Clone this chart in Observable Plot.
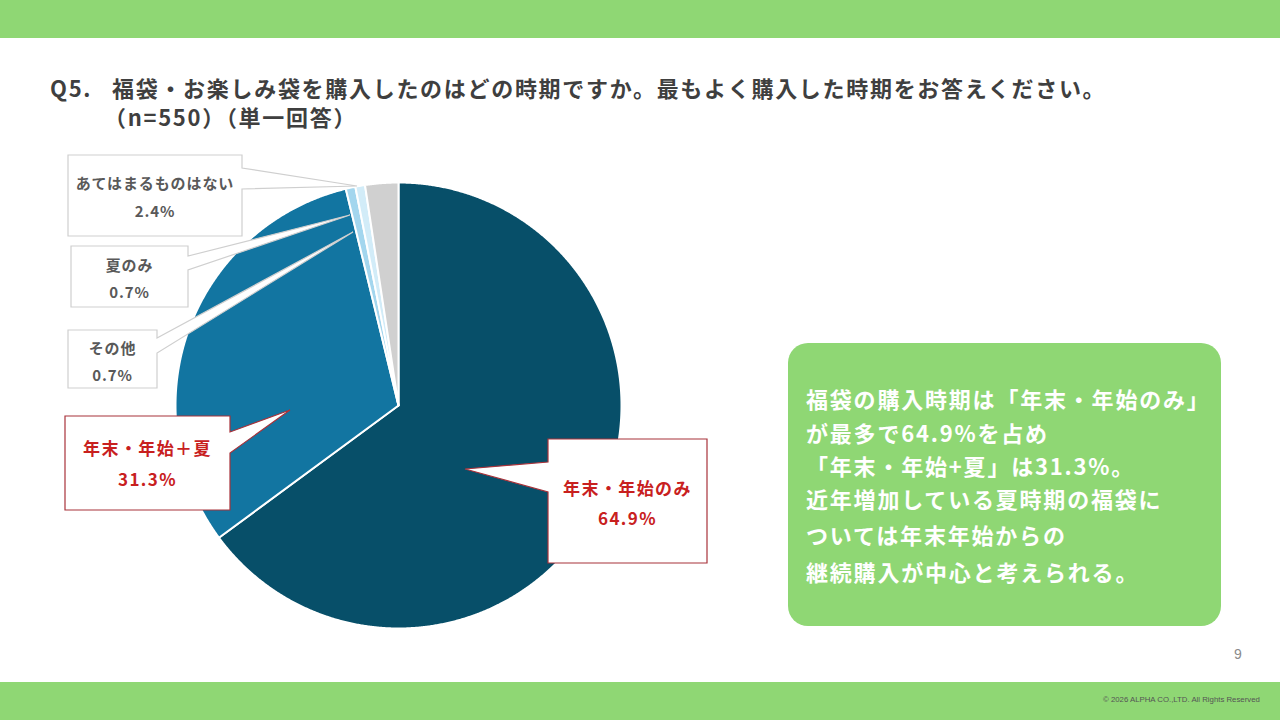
<!DOCTYPE html>
<html lang="ja">
<head>
<meta charset="utf-8">
<script src="https://cdn.jsdelivr.net/npm/d3@7"></script>
<script src="https://cdn.jsdelivr.net/npm/@observablehq/plot@0.6"></script>
<style>
  html, body { margin: 0; padding: 0; background: #fff; }
  #page { position: relative; width: 1280px; height: 720px; overflow: hidden;
          font-family: "Noto Sans CJK JP", "Noto Sans", sans-serif; }
  .bar { position: absolute; left: 0; width: 1280px; height: 38px; background: #8fd774; }
  #chart { position: absolute; left: 0; top: 0; }
  .title { position: absolute; font-size: 22px; font-weight: 700; color: #3f3f3f;
           letter-spacing: 1.7px; line-height: 29px; white-space: nowrap; }
  #note { position: absolute; left: 788px; top: 343px; width: 433px; height: 283px;
          background: #8fd774; border-radius: 20px; }
  #note div { position: absolute; left: 18px; font-size: 22px; font-weight: 700; color: #fff;
              letter-spacing: 1.8px; white-space: nowrap; line-height: 30px; }
  #pageno { position: absolute; left: 1234px; top: 646px; font-size: 14px; color: #8a8a8a;
            font-family: "Liberation Sans", Arial, sans-serif; }
  #copy { position: absolute; left: 1103px; top: 695px; font-size: 7.8px; color: #555;
          font-family: "Liberation Sans", Arial, sans-serif; white-space: nowrap; }
</style>
</head>
<body>
<div id="page">
  <div class="bar" style="top:0"></div>
  <div class="bar" style="top:682px"></div>
  <div id="chart"></div>
  <div class="title" style="left:50px; top:73px;">Q5.</div>
  <div class="title" style="left:112px; top:73px;">福袋・お楽しみ袋を購入したのはどの時期ですか。最もよく購入した時期をお答えください。</div>
  <div class="title" style="left:104px; top:102px;">（n=550）（単一回答）</div>
  <div id="note"></div>
  <div id="pageno">9</div>
  <div id="copy">© 2026 ALPHA CO.,LTD. All Rights Reserved</div>
</div>
<script>
// ---- data ----
const labels = ["年末・年始のみ", "年末・年始＋夏", "その他", "夏のみ", "あてはまるものはない"];
const values = [64.9, 31.3, 0.7, 0.7, 2.4];
const valueLabels = ["64.9%", "31.3%", "0.7%", "0.7%", "2.4%"];
const colors = ["#074f69", "#1275a1", "#a3d6ee", "#d2ecf8", "#d0d0d0"];
const noteLines = [
  "福袋の購入時期は「年末・年始のみ」",
  "が最多で64.9%を占め",
  "「年末・年始+夏」は31.3%。",
  "近年増加している夏時期の福袋に",
  "ついては年末年始からの",
  "継続購入が中心と考えられる。"
];

// ---- pie geometry from data ----
const arcs = d3.pie().sort(null).value((d, i) => values[i])(labels);
const pts = [];
arcs.forEach(a => {
  pts.push({name: a.data, x: 0, y: 0});
  const n = Math.max(2, Math.ceil((a.endAngle - a.startAngle) / 0.005));
  for (let k = 0; k <= n; k++) {
    const t = a.startAngle + (a.endAngle - a.startAngle) * k / n;
    pts.push({name: a.data, x: Math.sin(t), y: Math.cos(t)});
  }
});

const chart = Plot.plot({
  width: 1280,
  height: 720,
  margin: 0,
  style: {background: "transparent", overflow: "visible"},
  x: {domain: [-1, 1], range: [175, 621], axis: null},
  y: {domain: [-1, 1], range: [628, 182], axis: null},
  color: {domain: labels, range: colors},
  marks: [
    Plot.line(pts, {x: "x", y: "y", z: "name", fill: "name", stroke: "white",
                    strokeWidth: 2, strokeLinejoin: "round", curve: "linear-closed"})
  ]
});
document.getElementById("chart").appendChild(chart);

// ---- callouts (annotation layer) ----
const callouts = [
  {i: 4, box: [68, 155, 242, 236], side: "right", base: [168, 189], tip: [357, 186],
   stroke: "#cfcfcf", color: "#595959", size: 15, ls: 0.9, ty: [182, 210]},
  {i: 3, box: [71, 246, 188, 307], side: "right", base: [256, 270], tip: [350, 215],
   stroke: "#cfcfcf", color: "#595959", size: 15, ls: 0.9, ty: [264, 291]},
  {i: 2, box: [68, 330, 157, 388], side: "right", base: [338, 353], tip: [353, 232],
   stroke: "#cfcfcf", color: "#595959", size: 15, ls: 0.9, ty: [347, 374]},
  {i: 1, box: [65, 416, 230, 510], side: "right", base: [432, 453], tip: [290, 410],
   stroke: "#a8323a", color: "#c8201e", size: 17, ls: 1.4, ty: [447, 478]},
  {i: 0, box: [548, 439, 707, 563], side: "left", base: [462, 492], tip: [465, 469],
   stroke: "#a8323a", color: "#c8201e", size: 17, ls: 1.4, ty: [487, 517]}
];
const svg = d3.select(chart);
const g = svg.append("g");
callouts.forEach(c => {
  const [x0, y0, x1, y1] = c.box;
  let d;
  if (c.side === "right") {
    d = `M${x0},${y0}H${x1}V${c.base[0]}L${c.tip[0]},${c.tip[1]}L${x1},${c.base[1]}V${y1}H${x0}Z`;
  } else {
    d = `M${x0},${y0}H${x1}V${y1}H${x0}V${c.base[1]}L${c.tip[0]},${c.tip[1]}L${x0},${c.base[0]}Z`;
  }
  g.append("path").attr("d", d).attr("fill", "white").attr("stroke", c.stroke)
    .attr("stroke-width", 1.2).attr("stroke-linejoin", "miter");
  const cx = (x0 + x1) / 2;
  [labels[c.i], valueLabels[c.i]].forEach((txt, k) => {
    g.append("text").attr("x", cx).attr("y", c.ty[k]).attr("text-anchor", "middle")
      .attr("dominant-baseline", "central")
      .attr("font-family", '"Noto Sans CJK JP", sans-serif')
      .attr("font-size", c.size).attr("font-weight", 700)
      .attr("letter-spacing", c.ls).attr("fill", c.color).text(txt);
  });
});

// ---- note box text ----
const note = document.getElementById("note");
const lineY = [40, 74, 107, 140, 176, 213];
noteLines.forEach((t, k) => {
  const div = document.createElement("div");
  div.style.top = (lineY[k]) + "px";
  div.textContent = t;
  note.appendChild(div);
});
</script>
</body>
</html>
